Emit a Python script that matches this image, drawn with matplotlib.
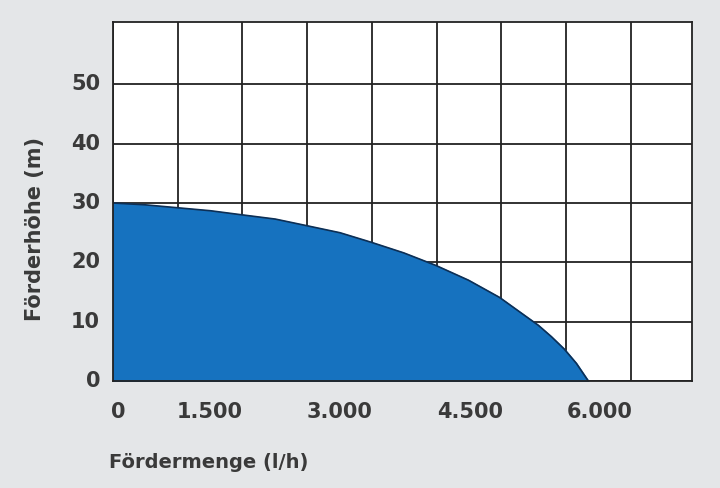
import numpy as np
import matplotlib
matplotlib.use('Agg')
import matplotlib.pyplot as plt

# Kennlinie
flow = [0, 370, 750, 1130, 1500, 1880, 2240, 2630, 2990, 3370, 3740, 4120,
        4480, 4930, 5080, 5230, 5370, 5510]
head = [30.0, 29.7, 29.2, 28.7, 28.0, 27.3, 26.2, 25.0, 23.4, 21.6, 19.5,
        17.0, 14.1, 9.4, 7.5, 5.4, 3.0, 0.0]
y_ticks = [0, 10, 20, 30, 40, 50]
x_labels = ['0', '1.500', '3.000', '4.500', '6.000']
x_label_pos = [60, 1125, 2630, 4140, 5640]

plt.rcParams['font.family'] = ['DejaVu Sans']
fig = plt.figure(figsize=(7.2, 4.88), dpi=100)
fig.patch.set_facecolor('#e4e6e8')
ax = fig.add_axes([0.157, 0.219, 0.804, 0.736])
ax.set_facecolor('white')

ax.fill_between(flow, head, 0, color='#1672bf', zorder=3)
ax.plot(flow, head, color='#0d2f55', lw=1.2, zorder=4)

ax.set_xlim(0, 6710)
ax.set_ylim(0, 60.5)
ax.set_xticks(np.arange(0, 6710, 750))
ax.set_yticks(y_ticks)
ax.grid(True, color='#222222', lw=1.3, zorder=1)
ax.tick_params(length=0, labelbottom=False, labelleft=False)
for s in ax.spines.values():
    s.set_color('#222222')
    s.set_linewidth(1.3)
    s.set_zorder(5)

txt = dict(color='#3a3a3a', fontsize=15, fontweight='bold')
for v in y_ticks:
    ax.text(-150, v, str(v), ha='right', va='center', **txt)
for p, l in zip(x_label_pos, x_labels):
    ax.text(p, -3.5, l, ha='center', va='top', **txt)

fig.text(0.048, 0.53, 'Förderhöhe (m)', rotation=90, ha='center', va='center',
         color='#3a3a3a', fontsize=15, fontweight='bold')
fig.text(0.152, 0.052, 'Fördermenge (l/h)', ha='left', va='center',
         color='#3a3a3a', fontsize=14, fontweight='bold')

fig.savefig('out.png', dpi=100, facecolor=fig.get_facecolor())
